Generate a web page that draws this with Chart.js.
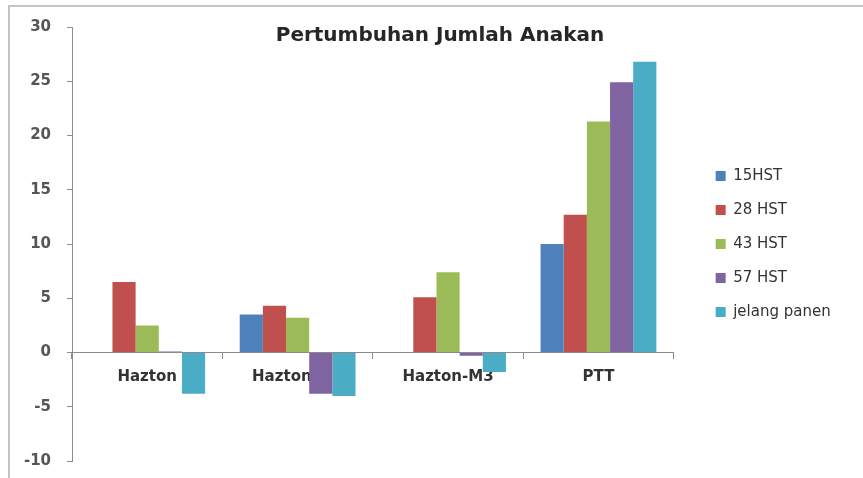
<!DOCTYPE html>
<html>
<head>
<meta charset="utf-8">
<script src="https://cdn.jsdelivr.net/npm/chart.js@4/dist/chart.umd.min.js"></script>
<style>
    html, body { margin: 0; padding: 0; background: #fff; }
    #wrap { position: relative; width: 863px; height: 478px; overflow: hidden; }
    #frame {
        position: absolute; left: 8px; top: 5px; width: 900px; height: 471px;
        border-left: 2px solid #c4c4c4; border-top: 2px solid #c4c4c4; border-bottom: 1px solid #eee;
    }
    #title {
        position: absolute; left: 220px; width: 440px; top: 22px; text-align: center;
        font: bold 20px "DejaVu Sans", sans-serif; color: #262626;
    }
    canvas { position: absolute; left: 0; top: 0; }
</style>
</head>
<body>
<div id="wrap">
    <div id="frame"></div>
    <canvas id="chart" width="863" height="478"></canvas>
    <div id="title">Pertumbuhan Jumlah Anakan</div>
</div>
<script>
// Categories and series
const categories = ['Hazton', 'Hazton-M2', 'Hazton-M3', 'PTT'];
const seriesNames = ['15HST', '28 HST', '43 HST', '57 HST', 'jelang panen'];
const hst15 = [0, 3.5, 0, 10.0];
const hst28 = [6.5, 4.3, 5.1, 12.7];
const hst43 = [2.5, 3.2, 7.4, 21.3];
const hst57 = [0.1, -3.8, -0.3, 24.9];
const jelangPanen = [-3.8, -4.0, -1.8, 26.8];
const yTicks = [-10, -5, 0, 5, 10, 15, 20, 25, 30];

const colors = ['#4F81BD', '#C0504D', '#9BBB59', '#8064A2', '#4BACC6'];
const seriesData = [hst15, hst28, hst43, hst57, jelangPanen];

const datasets = seriesNames.map((name, i) => ({
    label: name,
    data: seriesData[i],
    backgroundColor: colors[i],
    borderWidth: 0,
    categoryPercentage: 0.77,
    barPercentage: 1.0
}));

const tickFont = { family: 'DejaVu Sans', size: 15, weight: 'bold' };

new Chart(document.getElementById('chart').getContext('2d'), {
    type: 'bar',
    data: { labels: categories, datasets: datasets },
    options: {
        responsive: false,
        animation: false,
        layout: { padding: { top: 27, bottom: 17, left: 0, right: 27 } },
        plugins: {
            title: { display: false },
            tooltip: { enabled: false },
            legend: {
                position: 'right',
                labels: {
                    boxWidth: 10,
                    boxHeight: 10,
                    padding: 19,
                    color: '#333',
                    font: { family: 'DejaVu Sans', size: 15 }
                }
            }
        },
        scales: {
            x: {
                position: { y: 0 },
                // axis sits on the zero line, so it should not take room at the bottom
                afterFit: (s) => { s.height = 0; },
                grid: { display: true, drawOnChartArea: false, offset: true, tickLength: 6, color: '#8c8c8c' },
                border: { color: '#8c8c8c' },
                ticks: { color: '#333', font: tickFont, padding: 10 }
            },
            y: {
                min: -10,
                max: 30,
                afterFit: (s) => {
                    s.width = 72;
                    s.paddingTop = 0;
                    s.paddingBottom = 0;
                },
                afterBuildTicks: (s) => { s.ticks = yTicks.map(v => ({ value: v })); },
                grid: { drawOnChartArea: false, tickLength: 5, color: '#8c8c8c' },
                border: { color: '#8c8c8c' },
                ticks: { color: '#555', font: tickFont, padding: 16 }
            },
            gap: {
                position: 'right',
                display: true,
                grid: { display: false, drawTicks: false },
                border: { display: false },
                ticks: { display: false },
                afterFit: (s) => { s.width = 23; }
            }
        }
    }
});
</script>
</body>
</html>
